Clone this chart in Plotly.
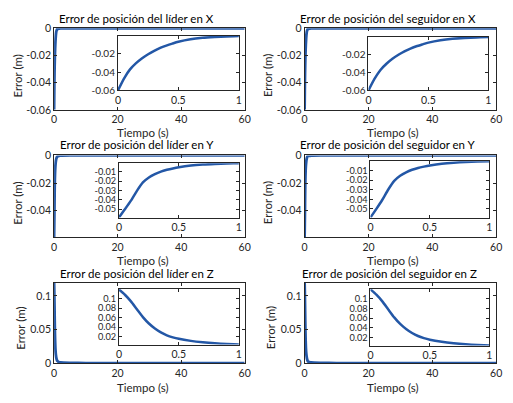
import plotly.graph_objects as go

# ---------------- data ----------------
t_fine = [0.0, 0.05, 0.1, 0.15, 0.2, 0.25, 0.3, 0.35, 0.4, 0.45, 0.5, 0.6, 0.7, 0.8, 0.9, 1.0]
t_tail = [1.5, 2.0, 5.0, 10.0, 20.0, 30.0, 40.0, 50.0, 60.0]

ex_lider = [-0.0600, -0.0470, -0.0370, -0.0302, -0.0248, -0.0204, -0.0167, -0.0135,
            -0.0110, -0.0088, -0.0068, -0.0040, -0.0024, -0.0015, -0.0009, -0.0005]
ex_seguidor = [-0.0600, -0.0472, -0.0372, -0.0303, -0.0248, -0.0203, -0.0165, -0.0133,
               -0.0108, -0.0087, -0.0067, -0.0040, -0.0024, -0.0015, -0.0009, -0.0005]
ey_lider = [-0.0590, -0.0502, -0.0410, -0.0305, -0.0215, -0.0162, -0.0126, -0.0099,
            -0.0080, -0.0065, -0.0053, -0.0035, -0.0024, -0.0017, -0.0012, -0.0009]
ey_seguidor = [-0.0590, -0.0500, -0.0405, -0.0298, -0.0208, -0.0155, -0.0119, -0.0093,
               -0.0074, -0.0060, -0.0048, -0.0030, -0.0019, -0.0012, -0.0007, -0.0004]
ez_lider = [0.1200, 0.1085, 0.0945, 0.0778, 0.0613, 0.0477, 0.0372, 0.0290,
            0.0228, 0.0185, 0.0153, 0.0110, 0.0080, 0.0058, 0.0042, 0.0031]
ez_seguidor = [0.1200, 0.1087, 0.0948, 0.0780, 0.0615, 0.0478, 0.0372, 0.0290,
               0.0227, 0.0183, 0.0150, 0.0106, 0.0076, 0.0054, 0.0038, 0.0027]

tail_x = [-0.0003, -0.0001, 0.0, 0.0, 0.0, 0.0, 0.0, 0.0, 0.0]
tail_y = [-0.0004, -0.0002, 0.0, 0.0, 0.0, 0.0, 0.0, 0.0, 0.0]
tail_z = [0.0015, 0.0008, 0.0002, 0.0, 0.0, 0.0, 0.0, 0.0, 0.0]

titles = ["Error de posición del líder en X", "Error de posición del seguidor en X",
          "Error de posición del líder en Y", "Error de posición del seguidor en Y",
          "Error de posición del líder en Z", "Error de posición del seguidor en Z"]
xlabel = "Tiempo (s)"
ylabel = "Error (m)"

main_xticks = [0, 20, 40, 60]
inset_xticks = [0, 0.5, 1]
main_yticks = {"X": [0, -0.02, -0.04, -0.06], "Y": [0, -0.02, -0.04], "Z": [0, 0.05, 0.1]}
main_yticktext = {"X": ["0", "-0.02", "-0.04", "-0.06"], "Y": ["0", "-0.02", "-0.04"],
                  "Z": ["0", "0.05", "0.1"]}
inset_yticks = {"X": [-0.02, -0.04, -0.06], "Y": [-0.01, -0.02, -0.03, -0.04, -0.05],
                "Z": [0.02, 0.04, 0.06, 0.08, 0.1]}
inset_yticktext = {"X": ["-0.02", "-0.04", "-0.06"],
                   "Y": ["-0.01", "-0.02", "-0.03", "-0.04", "-0.05"],
                   "Z": ["0.02", "0.04", "0.06", "0.08", "0.1"]}

series = [("X", ex_lider, tail_x), ("X", ex_seguidor, tail_x),
          ("Y", ey_lider, tail_y), ("Y", ey_seguidor, tail_y),
          ("Z", ez_lider, tail_z), ("Z", ez_seguidor, tail_z)]

# ---------------- layout geometry (pixels) ----------------
W, H = 513, 403
main_px = [(52, 246, 23, 107), (307, 502, 23, 107),
           (52, 246, 154, 238), (307, 502, 154, 238),
           (52, 246, 285, 368), (307, 502, 285, 368)]
inset_px = [(117, 240, 31, 87), (372, 494, 32, 87),
            (118, 240, 162, 218), (374, 495, 160, 218),
            (118, 240, 292, 349), (374, 495, 292, 350)]
title_pos = [(136, 13), (392, 13), (136, 143), (392, 143), (136, 276), (393, 276)]
xlabel_pos = [(142, 130), (397, 130), (142, 262), (397, 262), (142, 393), (397, 393)]
ylabel_pos = [(15, 72), (270, 72), (15, 203), (270, 203), (17, 332), (272, 332)]

FONT = "Lato"
AX = "#262626"
LINE = "#2357A6"


def xd(a, b):
    return [a / W, b / W]


def yd(top, bot):
    return [1 - bot / H, 1 - top / H]


def common(sz):
    return dict(showline=True, linecolor=AX, linewidth=1, mirror="ticks",
                ticks="inside", ticklen=3, tickcolor=AX, showgrid=False,
                zeroline=False, tickfont=dict(family=FONT, size=sz, color=AX))


fig = go.Figure()
layout = {}
annotations = []

for i, (axis, vals, tail) in enumerate(series):
    t_all = t_fine + t_tail
    v_all = vals + tail
    m = 2 * i + 1
    n = 2 * i + 2
    ms = "" if m == 1 else str(m)
    ns = str(n)

    fig.add_trace(go.Scatter(x=t_all, y=v_all, mode="lines",
                             line=dict(color=LINE, width=2.8, shape="spline", smoothing=0.6),
                             xaxis="x" + ms, yaxis="y" + ms, showlegend=False))
    fig.add_trace(go.Scatter(x=t_all, y=v_all, mode="lines",
                             line=dict(color=LINE, width=2.5, shape="spline", smoothing=0.6),
                             xaxis="x" + ns, yaxis="y" + ns, showlegend=False))

    if axis == "X":
        mrange = [-0.06, 0.0]
    elif axis == "Y":
        mrange = [min(vals), 0.0]
    else:
        mrange = [0.0, max(vals)]
    irange = [min(vals), max(vals)]
    inset_font = 10 if axis == "X" else 9.2

    a, b, top, bot = main_px[i]
    layout["xaxis" + ms] = dict(domain=xd(a, b), anchor="y" + ms, range=[0, 60],
                                tickvals=main_xticks, ticktext=[str(v) for v in main_xticks],
                                **common(10.5))
    layout["yaxis" + ms] = dict(domain=yd(top, bot), anchor="x" + ms, range=mrange,
                                tickvals=main_yticks[axis], ticktext=main_yticktext[axis],
                                **common(10.5))
    a, b, top, bot = inset_px[i]
    layout["xaxis" + ns] = dict(domain=xd(a, b), anchor="y" + ns, range=[0, 1],
                                tickvals=inset_xticks, ticktext=["0", "0.5", "1"],
                                **common(10.5))
    layout["yaxis" + ns] = dict(domain=yd(top, bot), anchor="x" + ns, range=irange,
                                tickvals=inset_yticks[axis], ticktext=inset_yticktext[axis],
                                **common(inset_font))

    tx, ty = title_pos[i]
    annotations.append(dict(text=titles[i], x=tx / W, y=1 - ty / H, xref="paper", yref="paper",
                            showarrow=False, xanchor="center", yanchor="middle",
                            font=dict(family=FONT, size=11.5, color="#000000")))
    lx, ly = xlabel_pos[i]
    annotations.append(dict(text=xlabel, x=lx / W, y=1 - ly / H, xref="paper", yref="paper",
                            showarrow=False, xanchor="center", yanchor="middle",
                            font=dict(family=FONT, size=11.5, color=AX)))
    yx, yy = ylabel_pos[i]
    annotations.append(dict(text=ylabel, x=yx / W, y=1 - yy / H, xref="paper", yref="paper",
                            showarrow=False, xanchor="center", yanchor="middle", textangle=-90,
                            font=dict(family=FONT, size=11.5, color=AX)))

fig.update_layout(width=W, height=H, margin=dict(l=0, r=0, t=0, b=0),
                  paper_bgcolor="white", plot_bgcolor="white",
                  annotations=annotations, **layout)

fig.write_html("out.html", config={"displayModeBar": False})
